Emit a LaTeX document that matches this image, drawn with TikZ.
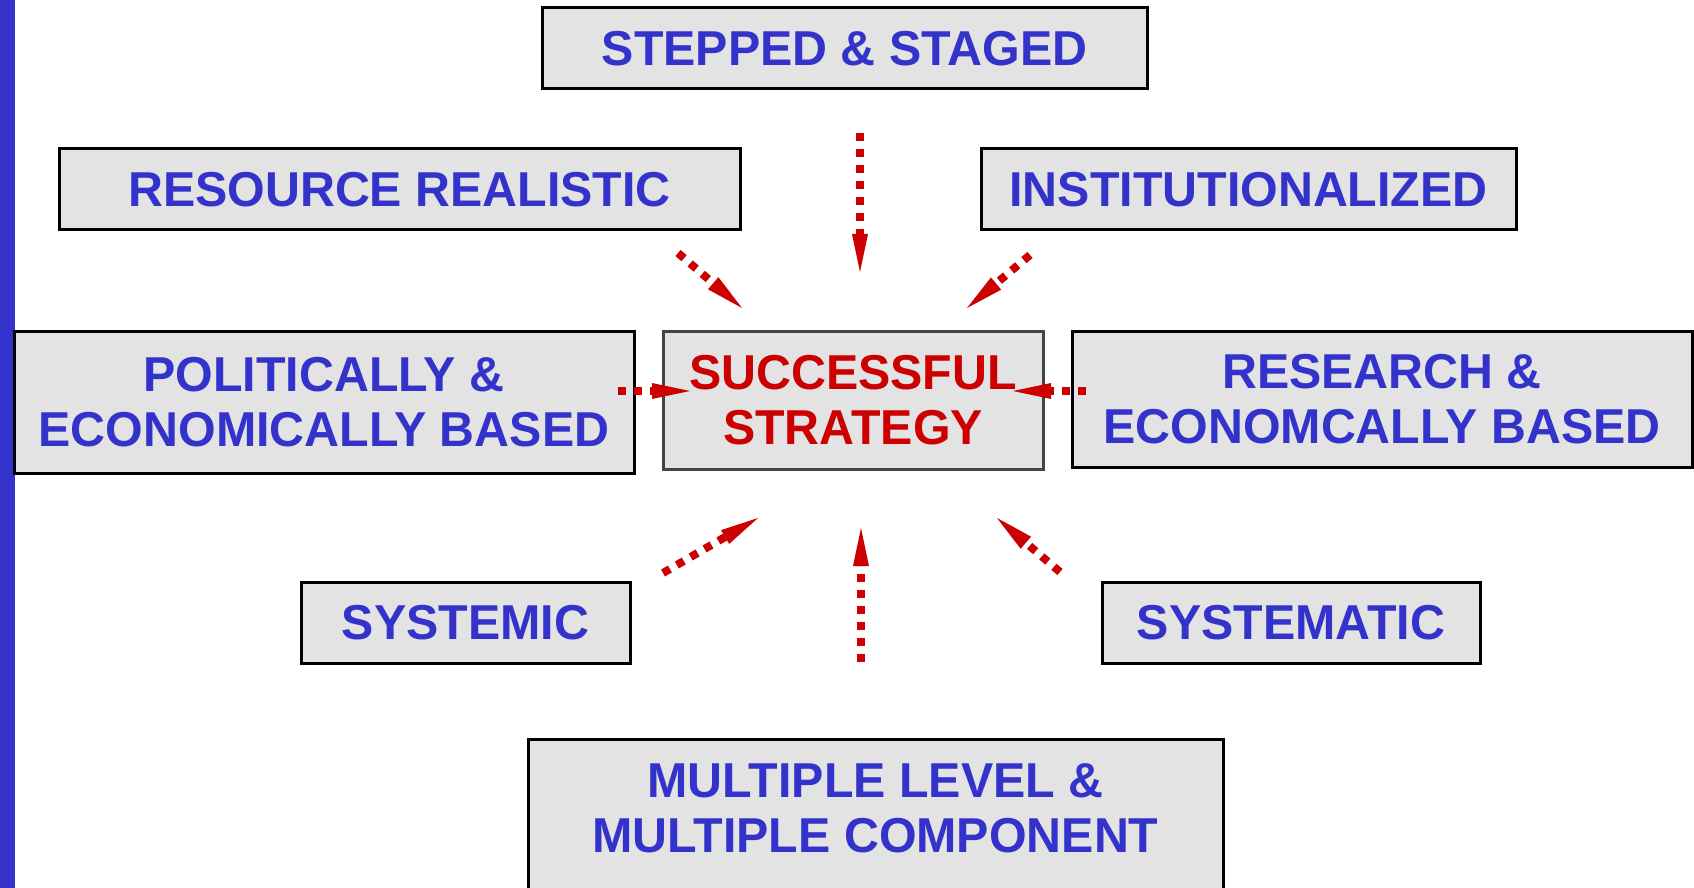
\documentclass[tikz,border=0pt]{standalone}
\usepackage{fontspec}
\setmainfont{Liberation Sans}[FakeStretch=0.987]
\usetikzlibrary{arrows.meta}
\definecolor{tblue}{HTML}{3333CC}
\definecolor{tred}{HTML}{CC0000}
\definecolor{boxfill}{HTML}{E3E3E3}
\definecolor{cborder}{HTML}{444444}
\begin{document}
\begin{tikzpicture}[x=0.5pt,y=-0.5pt,
  box/.style={draw=black, line width=1.5pt, fill=boxfill, inner sep=0pt,
    font=\fontsize{24.5pt}{27.5pt}\selectfont\bfseries, text=tblue, align=center},
  lbl/.style={inner sep=0pt, font=\fontsize{24.5pt}{27.5pt}\selectfont\bfseries, text=tblue, align=center},
  arr/.style={draw=tred, line width=4pt, dash pattern=on 4pt off 4pt,
    -{Triangle[length=19pt,width=8pt,line width=0pt,fill=tred]}}]
\useasboundingbox (0,0) rectangle (1694,888);
\clip (0,0) rectangle (1694,888);
\fill[tblue] (0,0) rectangle (15,888);

\node[box, minimum width=302.5pt, minimum height=40.5pt] (stepped) at (844.5,48.5) {STEPPED \& STAGED};
\node[box, minimum width=340.5pt, minimum height=40.5pt] (resource) at (399.5,189.5) {RESOURCE REALISTIC};
\node[box, minimum width=267.5pt, minimum height=40.5pt] (instit) at (1248.5,189.5) {INSTITUTIONALIZED};
\node[box, minimum width=310pt, minimum height=71pt] (polit) at (324,402) {POLITICALLY \&\\ECONOMICALLY BASED};
\node[box, draw=cborder, minimum width=190pt, minimum height=69pt, text=tred] (success) at (853,400) {SUCCESSFUL\\STRATEGY};
\node[box, minimum width=310pt, minimum height=68pt] (research) at (1382,399) {RESEARCH \&\\ECONOMCALLY BASED};
\node[box, minimum width=164.5pt, minimum height=40.5pt] (systemic) at (465.5,622.5) {SYSTEMIC};
\node[box, minimum width=189pt, minimum height=40.5pt] (systematic) at (1291,622.5) {SYSTEMATIC};
\node[box, minimum width=347.5pt, minimum height=81pt] (multiple) at (875.5,820) {};
\node[lbl] (multipletext) at (875.5,808.5) {MULTIPLE LEVEL \&\\MULTIPLE COMPONENT};

\coordinate (tA) at (860,133);  \coordinate (hA) at (860,272);
\coordinate (tB) at (678,253);  \coordinate (hB) at (742,308);
\coordinate (tC) at (1030,255); \coordinate (hC) at (967,308);
\coordinate (tD) at (618,391);  \coordinate (hD) at (690,391);
\coordinate (tE) at (1086,391); \coordinate (hE) at (1013,391);
\coordinate (tF) at (861,662);  \coordinate (hF) at (861,528);
\coordinate (tG) at (663,573);  \coordinate (hG) at (758,518);
\coordinate (tH) at (1060,572); \coordinate (hH) at (997,518);

\draw[arr] (tA) -- (hA);
\draw[arr] (tB) -- (hB);
\draw[arr] (tC) -- (hC);
\draw[arr] (tD) -- (hD);
\draw[arr] (tE) -- (hE);
\draw[arr] (tF) -- (hF);
\draw[arr] (tG) -- (hG);
\draw[arr] (tH) -- (hH);
\end{tikzpicture}
\end{document}
